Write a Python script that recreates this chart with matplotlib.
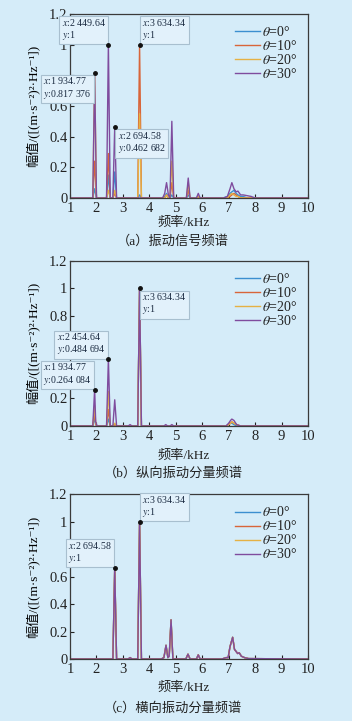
import matplotlib
matplotlib.use('Agg')
import matplotlib.pyplot as plt

plt.rcParams['font.family'] = ['Liberation Serif', 'DejaVu Serif', 'Noto Sans CJK SC']
plt.rcParams['mathtext.fontset'] = 'stix'
plt.rcParams['axes.unicode_minus'] = False

bg = '#d5ecf9'
colors = ['#3b8fd0', '#d8653a', '#e5b145', '#7f4c9e']
labels = [r'$\theta$=0°', r'$\theta$=10°', r'$\theta$=20°', r'$\theta$=30°']

x_ticks = [1, 2, 3, 4, 5, 6, 7, 8, 9, 10]
x_tick_labels = ['1', '2', '3', '4', '5', '6', '7', '8', '9', '10']
y_ticks = [0, 0.2, 0.4, 0.6, 0.8, 1.0, 1.2]
# labels hidden under the data tips are left blank
y_tick_labels_a = ['0', '0.2', '0.4', '0.6', '', '1', '1.2']
y_tick_labels_b = ['0', '0.2', '', '', '0.8', '1', '1.2']
y_tick_labels_c = ['0', '0.2', '0.4', '0.6', '', '1', '1.2']

# (a) 振动信号频谱
freq_a = [1.00, 1.86, 1.93, 2.00, 2.38, 2.45, 2.52, 2.62, 2.69, 2.76,
          3.56, 3.63, 3.70, 4.50, 4.58, 4.65, 4.72, 4.78, 4.85, 4.92,
          5.40, 5.47, 5.54, 5.78, 5.85, 5.92, 6.80, 6.95, 7.05, 7.12,
          7.20, 7.28, 7.35, 7.45, 7.55, 7.70, 7.85, 8.00, 10.00]
blue_a = [0, 0, 0.06, 0, 0, 0.15, 0, 0, 0.17, 0,
          0, 0.02, 0, 0, 0.01, 0.03, 0, 0, 0.02, 0,
          0, 0.02, 0, 0, 0.01, 0, 0, 0.01, 0.03, 0.04,
          0.05, 0.03, 0.02, 0.01, 0.01, 0, 0, 0, 0]
orange_a = [0, 0, 0.24, 0, 0, 0.29, 0, 0, 0.03, 0,
            0, 1.0, 0, 0, 0, 0.02, 0, 0, 0.10, 0,
            0, 0.05, 0, 0, 0, 0, 0, 0, 0.01, 0.02,
            0.03, 0.02, 0.01, 0, 0, 0, 0, 0, 0]
yellow_a = [0, 0, 0.817, 0, 0, 0.05, 0, 0, 0.05, 0,
            0, 0.55, 0, 0, 0, 0.02, 0, 0, 0.24, 0,
            0, 0.10, 0, 0, 0.01, 0, 0, 0, 0.02, 0.03,
            0.02, 0.01, 0.01, 0, 0, 0, 0, 0, 0]
purple_a = [0, 0, 0.80, 0, 0, 1.0, 0, 0, 0.4627, 0,
            0, 0, 0, 0, 0.03, 0.10, 0.02, 0, 0.50, 0,
            0, 0.13, 0, 0, 0.03, 0, 0, 0.01, 0.06, 0.10,
            0.06, 0.04, 0.045, 0.02, 0.02, 0.015, 0.01, 0, 0]

# (b) 纵向振动分量频谱
freq_b = [1.00, 1.86, 1.93, 1.97, 2.02, 2.38, 2.45, 2.52, 2.62, 2.69,
          2.76, 3.20, 3.27, 3.34, 3.56, 3.63, 3.70, 4.55, 4.62, 4.69,
          4.78, 4.85, 4.92, 6.90, 7.00, 7.07, 7.12, 7.20, 7.30, 7.45, 10.00]
blue_b = [0, 0, 0.06, 0.01, 0, 0, 0.05, 0, 0, 0.01,
          0, 0, 0, 0, 0, 1.0, 0, 0, 0, 0,
          0, 0, 0, 0, 0.01, 0.02, 0.02, 0.01, 0, 0, 0]
orange_b = [0, 0, 0.10, 0.01, 0, 0, 0.12, 0, 0, 0.01,
            0, 0, 0, 0, 0, 1.0, 0, 0, 0, 0,
            0, 0, 0, 0, 0.01, 0.02, 0.03, 0.02, 0.01, 0, 0]
yellow_b = [0, 0, 0.15, 0.02, 0, 0, 0.25, 0, 0, 0.02,
            0, 0, 0, 0, 0, 1.0, 0, 0, 0, 0,
            0, 0, 0, 0, 0.01, 0.02, 0.03, 0.02, 0.01, 0, 0]
purple_b = [0, 0, 0.264, 0.03, 0, 0, 0.4847, 0, 0, 0.19,
            0, 0, 0.01, 0, 0, 1.0, 0, 0, 0.01, 0,
            0, 0.01, 0, 0, 0.02, 0.04, 0.05, 0.04, 0.01, 0, 0]

# (c) 横向振动分量频谱 (四条曲线几乎重合)
freq_c = [1.00, 2.62, 2.69, 2.76, 3.20, 3.27, 3.34, 3.56, 3.63, 3.70,
          4.45, 4.55, 4.63, 4.70, 4.75, 4.82, 4.89, 5.38, 5.46, 5.54,
          5.78, 5.85, 5.92, 6.75, 6.90, 6.98, 7.05, 7.15, 7.22, 7.28,
          7.34, 7.40, 7.48, 7.60, 7.75, 10.00]
amp_c = [0, 0, 0.665, 0, 0, 0.01, 0, 0, 1.0, 0,
         0, 0.01, 0.10, 0.01, 0.02, 0.285, 0, 0, 0.035, 0,
         0, 0.03, 0, 0, 0.01, 0.01, 0.09, 0.158, 0.07, 0.055,
         0.04, 0.045, 0.02, 0.01, 0.003, 0]

# 数据提示框: (x, y, 文本, 位置)
tips_a = [(2.45, 1.0, '$x$:2 449.64\n$y$:1', 'br'),
          (3.63, 1.0, '$x$:3 634.34\n$y$:1', 'bl'),
          (1.93, 0.817, '$x$:1 934.77\n$y$:0.817 376', 'tr'),
          (2.69, 0.4627, '$x$:2 694.58\n$y$:0.462 682', 'tl')]
tips_b = [(3.63, 1.0, '$x$:3 634.34\n$y$:1', 'tl'),
          (2.45, 0.4847, '$x$:2 454.64\n$y$:0.484 694', 'br'),
          (1.93, 0.264, '$x$:1 934.77\n$y$:0.264 084', 'br')]
tips_c = [(3.63, 1.0, '$x$:3 634.34\n$y$:1', 'bl'),
          (2.69, 0.665, '$x$:2 694.58\n$y$:1', 'br')]

ylab = '幅值/([(m·s⁻²)²·Hz⁻¹])'


def draw_panel(ax, freq, series, tips, ylabels):
    ax.set_facecolor(bg)
    for ys, c, lb in zip(series, colors, labels):
        ax.plot(freq, ys, color=c, lw=1.0, label=lb)
    ax.set_xlim(1, 10)
    ax.set_ylim(0, 1.2)
    ax.set_xticks(x_ticks)
    ax.set_xticklabels(x_tick_labels)
    ax.set_yticks(y_ticks)
    ax.set_yticklabels(ylabels)
    ax.tick_params(direction='in', length=3, width=0.8, labelsize=10.5, pad=2, colors='#222222')
    ax.tick_params(axis='x', pad=3)
    for s in ax.spines.values():
        s.set_color('#3a3a3a')
        s.set_linewidth(0.9)
    ax.set_ylabel(ylab, fontsize=9.5)
    ax.yaxis.set_label_coords(-0.13, 0.5)
    leg = ax.legend(loc='upper right', frameon=False, fontsize=10, handlelength=1.8,
                    handletextpad=0.1, labelspacing=0.0, borderaxespad=0.5, borderpad=0.3)
    for t in leg.get_texts():
        t.set_color('#222222')
    for x, y, s, pos in tips:
        ax.plot([x], [y], 'o', ms=2.5, color='#111111', zorder=11, clip_on=False)
        va = 'bottom' if pos[0] == 'b' else 'top'
        ha = 'right' if pos[1] == 'r' else 'left'
        dx = -2 if ha == 'right' else 2
        dy = 2 if va == 'bottom' else -2
        ax.annotate(s, (x, y), xytext=(dx, dy), textcoords='offset points',
                    ha=ha, va=va, fontsize=7.1, color='#1a2a40', linespacing=1.15,
                    multialignment='left', zorder=10, annotation_clip=False,
                    bbox=dict(boxstyle='square,pad=0.25', fc='#e2f1fb', ec='#a8bfcf', lw=0.8))


fig = plt.figure(figsize=(3.52, 7.21), dpi=100, facecolor=bg)
ax_a = fig.add_axes([0.199, 0.7254, 0.676, 0.2552])
ax_b = fig.add_axes([0.199, 0.4092, 0.676, 0.2292])
ax_c = fig.add_axes([0.199, 0.0860, 0.676, 0.2284])

draw_panel(ax_a, freq_a, [blue_a, orange_a, yellow_a, purple_a], tips_a, y_tick_labels_a)
draw_panel(ax_b, freq_b, [blue_b, orange_b, yellow_b, purple_b], tips_b, y_tick_labels_b)
draw_panel(ax_c, freq_c, [amp_c, amp_c, amp_c, amp_c], tips_c, y_tick_labels_c)

for y in [0.6907, 0.3675, 0.0458]:
    fig.text(0.522, y, '频率/kHz', ha='center', va='center', fontsize=9.5, color='#222222')
captions = ['（a）振动信号频谱', '（b）纵向振动分量频谱', '（c）横向振动分量频谱']
for y, cap in zip([0.665, 0.344, 0.018], captions):
    fig.text(0.492, y, cap, ha='center', va='center', fontsize=9.5, color='#222222')

fig.savefig('out.png', dpi=100, facecolor=bg)
